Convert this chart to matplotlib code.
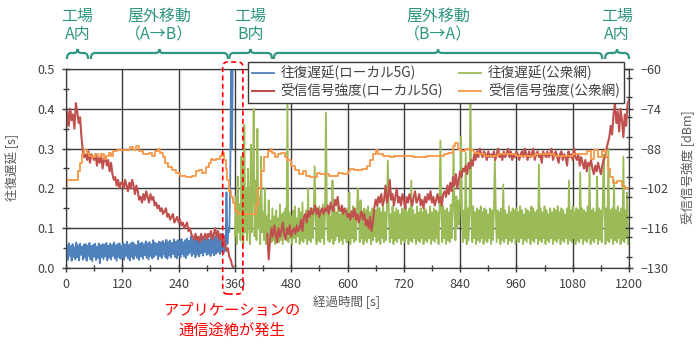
import numpy as np
import matplotlib
matplotlib.use("Agg")
import matplotlib.pyplot as plt
from matplotlib.path import Path
from matplotlib.patches import PathPatch, FancyBboxPatch
from matplotlib.transforms import IdentityTransform
from matplotlib.ticker import MultipleLocator, FormatStrFormatter

plt.rcParams['font.family'] = ['Noto Sans CJK JP', 'DejaVu Sans']

# round-trip delay, local 5G [ms], one sample every 2 s from t=0
blue_t0 = 0
blue_ms = [
    25, 58, 20, 62, 30, 55, 18, 60, 28, 52, 22, 64, 27, 57, 19, 61, 33, 54, 21, 59,
    26, 60, 18, 56, 30, 63, 22, 55, 17, 58, 28, 61, 20, 54, 25, 62, 12, 57, 27, 60,
    22, 59, 29, 63, 19, 56, 26, 61, 21, 58, 30, 64, 24, 57, 18, 60, 28, 62, 23, 55,
    27, 63, 21, 59, 30, 66, 24, 58, 19, 62, 28, 65, 22, 60, 31, 57, 25, 68, 20, 61,
    29, 64, 23, 60, 32, 67, 26, 62, 21, 65, 30, 59, 24, 70, 28, 63, 33, 61, 22, 66,
    30, 64, 25, 68, 34, 62, 27, 71, 23, 65, 31, 69, 26, 63, 35, 72, 28, 66, 24, 70,
    32, 67, 27, 73, 35, 65, 29, 70, 25, 74, 33, 68, 38, 80, 30, 71, 36, 69, 27, 75,
    34, 72, 29, 78, 37, 70, 31, 76, 40, 73, 33, 84, 36, 71, 30, 79, 38, 74, 32, 80,
    36, 76, 40, 82, 35, 78, 42, 86, 38, 80, 45, 190, 60, 100, 90, 210, 550, 300, 620,
]

# round-trip delay, public network [ms], one sample every 2 s from t=360
green_t0 = 360
green_ms = [
    80, 180, 60, 230, 90, 160, 70, 280, 110, 60, 360, 90, 200, 70, 250, 120, 60, 310, 90, 190,
    400, 80, 220, 70, 350, 100, 180, 60, 280, 90, 140, 70, 200, 60, 130, 80, 170, 70, 120, 65,
    150, 70, 130, 60, 145, 75, 125, 65, 160, 70, 135, 60, 140, 80, 150, 70, 440, 65, 140, 75,
    130, 60, 145, 75, 155, 65, 125, 80, 150, 60, 140, 70, 165, 65, 130, 75, 145, 60, 200, 70,
    140, 65, 150, 75, 135, 255, 130, 60, 145, 70, 155, 65, 140, 75, 160, 60, 135, 390, 150, 70,
    145, 65, 130, 75, 220, 60, 150, 70, 140, 80, 155, 65, 135, 70, 150, 60, 145, 75, 140, 65,
    150, 70, 190, 60, 140, 75, 155, 65, 135, 70, 145, 200, 150, 65, 170, 75, 140, 60, 150, 70,
    145, 65, 155, 75, 140, 60, 150, 70, 135, 80, 145, 65, 175, 70, 150, 60, 140, 75, 155, 65,
    140, 70, 150, 270, 145, 65, 135, 75, 155, 60, 140, 70, 150, 65, 145, 75, 135, 60, 150, 70,
    145, 65, 155, 75, 140, 60, 150, 70, 220, 65, 145, 75, 135, 60, 155, 70, 140, 65, 150, 75,
    140, 60, 150, 70, 145, 65, 135, 75, 155, 60, 140, 70, 150, 65, 145, 75, 140, 60, 150, 320,
    140, 65, 155, 75, 145, 60, 150, 70, 140, 65, 160, 75, 145, 300, 150, 70, 180, 100, 170, 110,
    165, 330, 150, 65, 145, 75, 290, 60, 150, 70, 145, 480, 140, 65, 155, 75, 140, 60, 150, 70,
    145, 65, 155, 75, 140, 60, 150, 70, 145, 65, 135, 75, 150, 60, 145, 70, 140, 275, 150, 65,
    145, 75, 140, 60, 150, 70, 210, 65, 145, 75, 135, 60, 155, 70, 140, 65, 150, 75, 145, 60,
    150, 70, 140, 65, 155, 75, 145, 60, 135, 70, 150, 65, 145, 75, 140, 60, 155, 70, 150, 65,
    140, 75, 145, 60, 260, 70, 150, 65, 140, 75, 155, 60, 145, 70, 135, 65, 150, 75, 140, 60,
    150, 70, 145, 65, 155, 75, 140, 60, 150, 70, 145, 65, 135, 75, 150, 60, 220, 70, 145, 65,
    155, 75, 140, 60, 150, 70, 145, 65, 240, 75, 150, 60, 145, 70, 140, 65, 155, 75, 260, 60,
    145, 70, 150, 65, 140, 75, 230, 60, 150, 70, 145, 65, 155, 285, 140, 60, 150, 70, 300, 65,
    145, 75, 150, 60, 220, 70, 145, 65, 155, 75, 140, 60, 150, 70, 280, 65, 145, 75, 190, 60,
]

# received signal strength, local 5G [dBm], every 3 s (lost between the two runs)
red1_t0 = 0
red1_dbm = [
    -82, -75, -80, -74, -78, -76, -81, -72, -75, -79, -77, -84, -89, -91, -90, -92, -89, -93, -90, -91,
    -92, -90, -94, -91, -93, -90, -95, -92, -91, -94, -92, -96, -93, -97, -99, -98, -101, -99, -102, -100,
    -100, -102, -99, -101, -103, -100, -102, -99, -101, -104, -101, -103, -106, -105, -107, -104, -106, -103, -105, -107,
    -104, -106, -105, -108, -107, -109, -108, -110, -109, -111, -110, -109, -112, -111, -113, -112, -111, -114, -113, -112,
    -114, -113, -115, -114, -116, -115, -114, -117, -116, -118, -119, -120, -118, -120, -119, -121, -118, -120, -119, -118,
    -120, -118, -119, -117, -120, -118, -116, -119, -117, -120, -118, -121, -119, -122, -124, -123, -126, -127, -129, -130,
]
red2_t0 = 429
red2_dbm = [
    -118, -127, -120, -116, -119, -115, -118, -121, -116, -119, -117, -114, -118, -120, -116, -118, -115, -119, -117, -116,
    -118, -115, -117, -116, -113, -117, -112, -111, -114, -110, -112, -109, -111, -110, -108, -111, -109, -112, -110, -109,
    -111, -109, -110, -108, -111, -107, -109, -110, -106, -108, -105, -109, -110, -108, -111, -109, -110, -112, -111, -113,
    -110, -112, -109, -113, -111, -114, -112, -110, -113, -111, -115, -113, -116, -112, -117, -114, -109, -106, -108, -105,
    -107, -104, -108, -106, -101, -107, -105, -99, -106, -104, -108, -105, -102, -107, -105, -108, -104, -106, -109, -105,
    -107, -104, -106, -108, -105, -103, -107, -106, -104, -108, -106, -109, -105, -107, -104, -106, -103, -107, -105, -108,
    -106, -104, -107, -105, -108, -104, -103, -105, -101, -104, -100, -103, -98, -101, -97, -102, -99, -96, -98, -95,
    -96, -94, -97, -93, -95, -92, -94, -90, -92, -89, -91, -88, -90, -91, -89, -90, -92, -89, -91, -90,
    -91, -89, -92, -90, -88, -91, -90, -92, -89, -91, -90, -88, -91, -89, -92, -90, -91, -89, -90, -92,
    -90, -89, -91, -88, -90, -92, -89, -91, -90, -88, -92, -90, -89, -91, -90, -93, -89, -90, -91, -89,
    -91, -90, -88, -92, -90, -89, -91, -93, -90, -89, -92, -90, -91, -94, -89, -91, -90, -92, -88, -91,
    -92, -90, -94, -91, -93, -95, -92, -96, -93, -94, -92, -95, -97, -94, -96, -93, -95, -97, -94, -92,
    -91, -88, -86, -84, -80, -83, -76, -72, -79, -75, -82, -74, -78, -84, -76, -80, -72, -71,
]

# received signal strength, public network [dBm], level changes
orange_t = [0, 2, 23, 26, 30, 34, 38, 44, 50, 56, 62, 68, 74, 80, 86, 92, 96, 100, 108, 130,
            136, 142, 150, 156, 164, 176, 184, 190, 196, 200, 206, 212, 218, 226, 234, 242, 256, 268, 278, 284,
            290, 298, 304, 310, 314, 320, 328, 332, 336, 340, 344, 348, 352, 356, 360, 366, 405, 410, 416, 422,
            430, 436, 440, 446, 452, 458, 466, 472, 480, 488, 496, 506, 512, 520, 536, 542, 560, 580, 590, 600,
            606, 614, 630, 642, 648, 654, 660, 666, 675, 690, 700, 740, 770, 805, 815, 825, 830, 836, 842, 850,
            860, 870, 880, 890, 920, 960, 1000, 1040, 1080, 1110, 1118, 1126, 1134, 1143, 1148, 1152, 1156, 1160, 1165, 1175,
            1186, 1192, 1200]
orange_dbm = [-101.5, -99, -99, -96, -93, -90, -88.5, -89.5, -90.5, -91, -90, -91, -90, -91.5, -90.5, -89.5, -90.5, -89, -88.5, -88.5,
              -87.5, -88.5, -87, -89, -90, -89.5, -90.5, -89, -88, -89.5, -91, -93, -94.5, -95.5, -96.5, -97.5, -98, -97.5, -96, -95.5,
              -96.5, -94.5, -93, -91.5, -92, -91.5, -90.5, -89.5, -92, -95, -99, -103, -105, -107, -110, -111, -108, -102, -96, -91,
              -89, -88, -89.5, -91, -90, -89.5, -91, -92, -94, -95.5, -97, -96, -97.5, -98, -96.5, -97, -97.5, -96.5, -97, -96,
              -95, -95.5, -95, -94, -92, -90, -88.5, -90, -90.5, -91, -90.5, -91, -90.5, -90, -89.5, -87, -86, -88, -89, -88,
              -88.5, -89.5, -90, -90.5, -90, -90.5, -90, -90.5, -90, -89, -91.5, -88.5, -91, -89, -88.5, -91, -95, -98, -100, -99.5,
              -101, -102, -102]

xticks = list(range(0, 1201, 120))
rssi_ticks = [-130, -116, -102, -88, -74, -60]

c_blue = '#4F81BD'
c_red = '#C0504D'
c_green = '#9BBB59'
c_orange = '#F79646'
c_teal = '#2F9682'
c_text = '#404040'

W, H = 700, 346
fig = plt.figure(figsize=(W / 100, H / 100), dpi=100)
ax = fig.add_axes([66 / W, 1 - 268 / H, 563 / W, 199 / H])
ax2 = ax.twinx()

t_blue = blue_t0 + 2 * np.arange(len(blue_ms))
t_green = green_t0 + 2 * np.arange(len(green_ms))
t_red1 = red1_t0 + 3 * np.arange(len(red1_dbm))
t_red2 = red2_t0 + 3 * np.arange(len(red2_dbm))

l_blue, = ax.plot(t_blue, np.array(blue_ms) / 1000, color=c_blue, lw=1.3)
l_green, = ax.plot(t_green, np.array(green_ms) / 1000, color=c_green, lw=1.3)
l_red, = ax2.plot(t_red1, red1_dbm, color=c_red, lw=1.5)
ax2.plot(t_red2, red2_dbm, color=c_red, lw=1.5)
l_orange, = ax2.step(orange_t, orange_dbm, where='post', color=c_orange, lw=1.3)

ax.set_xlim(0, 1200)
ax.set_ylim(0, 0.5)
ax2.set_ylim(-130, -60)
ax.set_xticks(xticks)
ax.xaxis.set_minor_locator(MultipleLocator(60))
ax.yaxis.set_major_locator(MultipleLocator(0.1))
ax.yaxis.set_minor_locator(MultipleLocator(0.05))
ax.yaxis.set_major_formatter(FormatStrFormatter('%.1f'))
ax2.set_yticks(rssi_ticks)
ax2.yaxis.set_minor_locator(MultipleLocator(7))

ax.grid(True, which='major', color='#3a3a3a', lw=1.0)
ax.set_axisbelow(True)
for a in (ax, ax2):
    a.tick_params(which='both', direction='inout', colors='#3a3a3a', labelcolor=c_text, labelsize=9)
    a.tick_params(which='major', length=6, width=1)
    a.tick_params(which='minor', length=5, width=1)
    for s in a.spines.values():
        s.set_color('#3a3a3a')
ax.tick_params(axis='x', pad=4)
ax.tick_params(axis='y', pad=5)
ax2.tick_params(axis='y', pad=5)

fig.text(347 / W, 1 - 302 / H, '経過時間 [s]', ha='center', va='center', fontsize=9, color='#595959')
fig.text(12 / W, 1 - 167 / H, '往復遅延 [s]', ha='center', va='center', rotation=90, fontsize=9, color='#595959')
fig.text(688 / W, 1 - 167 / H, '受信信号強度 [dBm]', ha='center', va='center', rotation=90, fontsize=9, color='#595959')

leg = fig.legend([l_blue, l_red, l_green, l_orange],
                 ['往復遅延(ローカル5G)', '受信信号強度(ローカル5G)', '往復遅延(公衆網)', '受信信号強度(公衆網)'],
                 ncol=2, loc='upper left', bbox_to_anchor=(241 / W, 1 - 55 / H),
                 fontsize=9.8, frameon=True, fancybox=False, framealpha=1,
                 edgecolor='#3a3a3a', handlelength=1.6, handletextpad=0.5,
                 columnspacing=1.2, borderpad=0.3, labelspacing=0.25, labelcolor=c_text)
leg.get_frame().set_linewidth(1.0)


def px(t):
    return ax.transData.transform((t, 0))[0]


# section brackets above the plot
sections = [(2, 47, '工場\nA内'), (53, 345, '屋外移動\n（A→B）'), (348, 439, '工場\nB内'),
            (443, 1143, '屋外移動\n（B→A）'), (1149, 1200, '工場\nA内')]
yb, yh, yt, d = H - 59, H - 53, H - 49, 4
for t0, t1, label in sections:
    x0, x1 = px(t0), px(t1)
    xm = (x0 + x1) / 2
    verts = [(x0, yb), (x0, yh), (x0 + d, yh), (xm - d, yh), (xm, yh), (xm, yt),
             (xm, yh), (xm + d, yh), (x1 - d, yh), (x1, yh), (x1, yb)]
    codes = [Path.MOVETO, Path.CURVE3, Path.CURVE3, Path.LINETO, Path.CURVE3, Path.CURVE3,
             Path.CURVE3, Path.CURVE3, Path.LINETO, Path.CURVE3, Path.CURVE3]
    fig.add_artist(PathPatch(Path(verts, codes), transform=IdentityTransform(),
                             fill=False, ec=c_teal, lw=1.6))
    fig.text(xm / W, 1 - 25.5 / H, label, ha='center', va='center', fontsize=11.5,
             color=c_teal, linespacing=1.15)

# outage marker
bx0, bx1 = px(334), px(377)
fig.add_artist(FancyBboxPatch((bx0, H - 294), bx1 - bx0, 232,
                              boxstyle='round,pad=0,rounding_size=5',
                              transform=IdentityTransform(), fill=False,
                              ec='#FF0000', ls=(0, (3, 2)), lw=1.2))
fig.text(232 / W, 1 - 320.5 / H, 'アプリケーションの\n通信途絶が発生', ha='center', va='center',
         fontsize=11, color='#FF0000', linespacing=1.2)

fig.savefig('out.png', dpi=100)
